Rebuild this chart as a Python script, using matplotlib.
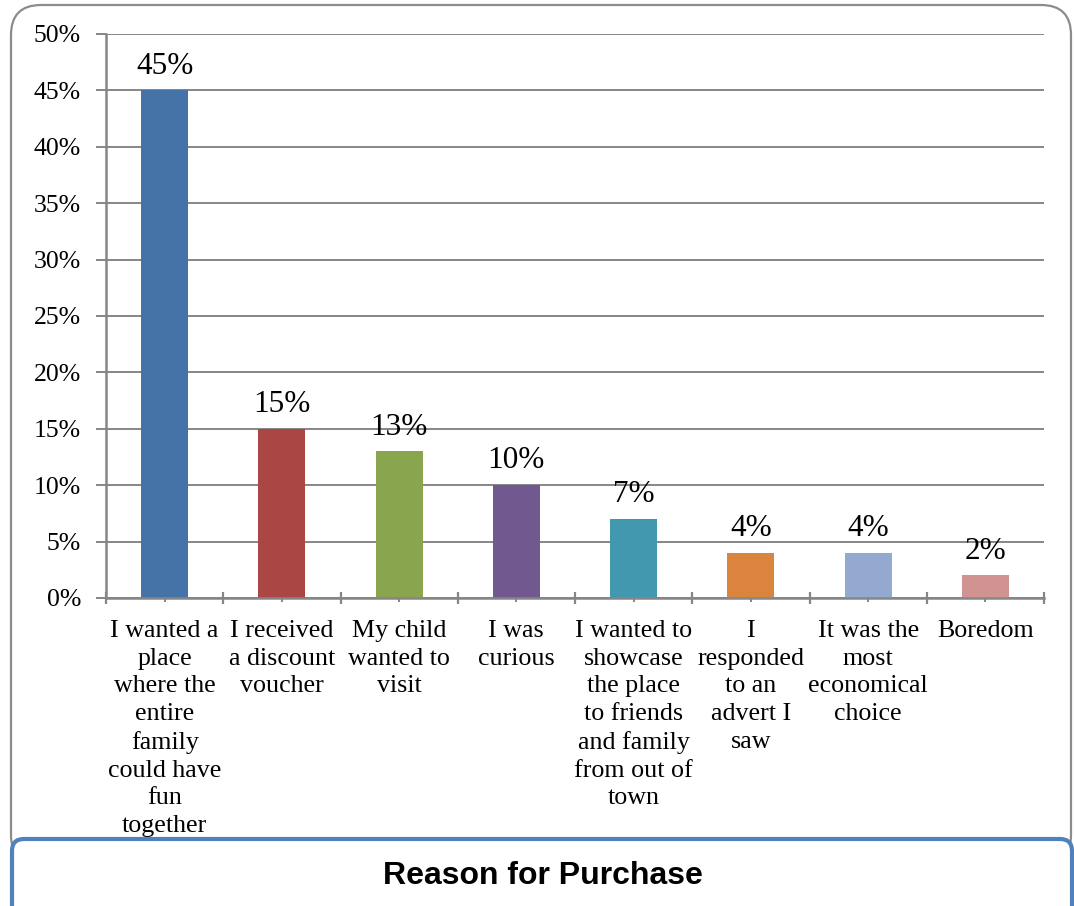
import matplotlib
matplotlib.use("Agg")
import matplotlib.pyplot as plt
from matplotlib.patches import FancyBboxPatch
from matplotlib.ticker import FixedLocator, FuncFormatter
import numpy as np

categories = [
    "I wanted a\nplace\nwhere the\nentire\nfamily\ncould have\nfun\ntogether",
    "I received\na discount\nvoucher",
    "My child\nwanted to\nvisit",
    "I was\ncurious",
    "I wanted to\nshowcase\nthe place\nto friends\nand family\nfrom out of\ntown",
    "I\nresponded\nto an\nadvert I\nsaw",
    "It was the\nmost\neconomical\nchoice",
    "Boredom",
]
values = [45, 15, 13, 10, 7, 4, 4, 2]
colors = ["#4572A7", "#AA4643", "#89A54E", "#71588F",
          "#4198AF", "#DB843D", "#93A9CF", "#D19392"]
title = "Reason for Purchase"

W, H = 1074, 906
fig = plt.figure(figsize=(W / 100, H / 100), dpi=100)

serif = ["Liberation Serif", "DejaVu Serif"]
grey = "#868686"

# background layer in pixel units: rounded chart frame
bg = fig.add_axes([0, 0, 1, 1], zorder=0)
bg.set_xlim(0, W)
bg.set_ylim(H, 0)
bg.axis("off")
bg.add_patch(FancyBboxPatch((11, 5), 1060, 860,
                            boxstyle="round,pad=0,rounding_size=30",
                            fc="white", ec="#8c8c8c", lw=1.6))

# main bar chart
left, right, top, bottom = 106, 1044, 34, 598
ax = fig.add_axes([left / W, 1 - bottom / H, (right - left) / W, (bottom - top) / H],
                  zorder=1)
ax.patch.set_alpha(0)
n = len(values)
x = np.arange(n)
ax.bar(x, values, width=0.4, color=colors, zorder=3)
for xi, v in zip(x, values):
    ax.annotate(f"{v}%", (xi, v), xytext=(0, 7), textcoords="offset points",
                ha="center", va="bottom", fontsize=22.5, family=serif, zorder=4)

ax.set_xlim(-0.5, n - 0.5)
ax.set_ylim(0, 50)
ax.yaxis.set_major_locator(FixedLocator(np.arange(0, 51, 5)))
ax.yaxis.set_major_formatter(FuncFormatter(lambda v, p: f"{v:.0f}%"))
ax.grid(axis="y", color=grey, lw=1.4, zorder=0)
ax.tick_params(axis="y", length=7, width=1.4, color=grey, pad=11,
               labelsize=18.5, direction="out")
for t in ax.get_yticklabels():
    t.set_family(serif)

# category boundary ticks (major) and category centre ticks (minor)
ax.xaxis.set_major_locator(FixedLocator(np.arange(-0.5, n, 1.0)))
ax.xaxis.set_major_formatter(FuncFormatter(lambda v, p: ""))
ax.xaxis.set_minor_locator(FixedLocator(x))
ax.xaxis.set_minor_formatter(FuncFormatter(lambda v, p: categories[int(round(v))]))
ax.tick_params(axis="x", which="major", length=8, width=1.6, color=grey,
               direction="inout")
ax.tick_params(axis="x", which="minor", length=6, width=1.4, color=grey,
               direction="inout", pad=13, labelsize=18.7)
for t in ax.get_xticklabels(minor=True):
    t.set_family(serif)
    t.set_linespacing(1.33)
    t.set_ha("center")
    t.set_va("top")

for s in ["top", "right"]:
    ax.spines[s].set_visible(False)
for s in ["left", "bottom"]:
    ax.spines[s].set_color(grey)
    ax.spines[s].set_linewidth(1.8)
    ax.spines[s].set_zorder(5)

# foreground layer: title box
fg = fig.add_axes([0, 0, 1, 1], zorder=2)
fg.set_xlim(0, W)
fg.set_ylim(H, 0)
fg.axis("off")
fg.patch.set_alpha(0)
fg.add_patch(FancyBboxPatch((12, 839), 1060, 90,
                            boxstyle="round,pad=0,rounding_size=12",
                            fc="white", ec="#4F81BD", lw=3))
fg.text(543, 876, title, ha="center", va="center", fontsize=23,
        fontweight="bold", family=["Liberation Sans", "DejaVu Sans"])

fig.savefig("out.png", dpi=100)
